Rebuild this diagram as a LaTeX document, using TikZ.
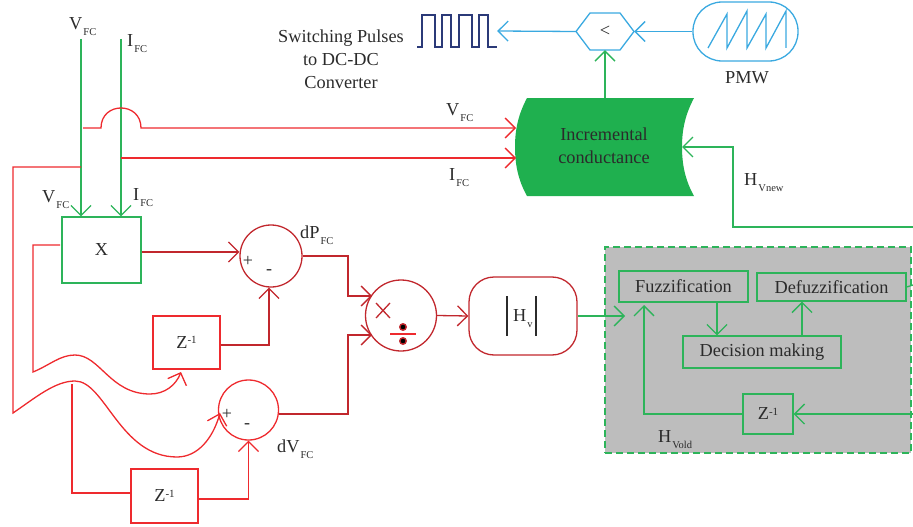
\documentclass[tikz,border=0pt]{standalone}
\usepackage{fontspec}
\setmainfont{Liberation Serif}
\usetikzlibrary{arrows.meta}
\definecolor{fcred}{HTML}{EE2A2E}
\definecolor{fcdark}{HTML}{C1272D}
\definecolor{fcgreen}{HTML}{2DB45A}
\definecolor{fcfill}{HTML}{1FB04F}
\definecolor{fcblue}{HTML}{3AA9E0}
\definecolor{fcnavy}{HTML}{2B3A78}
\definecolor{fcgray}{HTML}{BDBDBD}
\definecolor{fctext}{HTML}{2B2B2B}
\newcommand{\lab}[2]{#1\kern1pt\raisebox{-6pt}{\fontsize{10.5}{10.5}\selectfont #2}}
\newcommand{\zinv}{Z\raisebox{0.55ex}{\fontsize{11}{11}\selectfont -1}}
\tikzset{
  every node/.style={text=fctext, font=\fontsize{18.3}{23}\selectfont},
  tag/.style={anchor=base west, inner sep=0pt},
  sign/.style={font=\fontsize{18}{18}\selectfont},
  tip/.style={>={Straight Barb[length=10pt,width=20pt]}},
  redline/.style={draw=fcred, line width=1.3pt, tip},
  darkline/.style={draw=fcdark, line width=1.3pt, tip},
  greenline/.style={draw=fcgreen, line width=1.3pt, tip},
  blueline/.style={draw=fcblue, line width=1.3pt, tip},
  redbox/.style={draw=fcred, line width=1.3pt, inner sep=0pt},
  greenbox/.style={draw=fcgreen, line width=1.3pt, inner sep=0pt},
  sumnode/.style={circle, draw=fcdark, line width=1.3pt, inner sep=0pt}
}
\begin{document}
\begin{tikzpicture}[x=1pt,y=-1pt]
  \useasboundingbox (0,0) rectangle (913,527);

  % fuzzy block
  \node[minimum width=306pt, minimum height=206pt, fill=fcgray, draw=fcgreen, dash pattern=on 7pt off 4pt, line width=1.3pt] (fuzzy) at (758,350) {};
  \node[greenbox, minimum width=129pt, minimum height=31pt] (fuzzif) at (683.5,286.5) {Fuzzification};
  \node[greenbox, minimum width=149pt, minimum height=28pt] (defuzz) at (831.5,287) {Defuzzification};
  \node[greenbox, minimum width=158pt, minimum height=32pt] (decide) at (762,352) {Decision making};
  \node[greenbox, minimum width=50pt, minimum height=40pt] (zold) at (768,414) {\zinv};
  \node[tag] (hvold) at (658,442) {\lab{H}{Vold}};

  % green block
  \fill[fcfill] (527,98) .. controls (518,115) and (515,130) .. (515,147) .. controls (515,164) and (518,180) .. (527,196)
    -- (694,196) .. controls (685,180) and (682,164) .. (682,147) .. controls (682,130) and (685,115) .. (694,98) -- cycle;
  \node[align=center] (inc) at (604,146) {Incremental\\conductance};
  \coordinate (incv) at (516,128);
  \coordinate (inci) at (516,158);
  \coordinate (incn) at (682,147);
  \coordinate (inct) at (605,98);

  % comparator and carrier
  \node[minimum width=58pt, minimum height=37pt, inner sep=0pt] (comp) at (605,31.5) {<};
  \draw[fcblue, line width=1.3pt] (576,31.5) -- (590,13) -- (620,13) -- (634,31.5) -- (620,50) -- (590,50) -- cycle;
  \node[draw=fcblue, line width=1.3pt, rounded corners=29pt, minimum width=105pt, minimum height=59pt] (carrier) at (745.5,31.5) {};
  \draw[fcblue, line width=1.3pt] (708,48) -- (727,14) -- (727,48) -- (747,11) -- (747,48) -- (766,14) -- (766,48) -- (786,11) -- (786,48);
  \node (pmw) at (747,78) {PMW};

  % pulses
  \node[minimum width=80pt, minimum height=32pt] (pulse) at (457,31) {};
  \draw[fcnavy, line width=1.3pt] (417,47) -- (422,47) -- (422,15) -- (435,15) -- (435,47) -- (442,47) -- (442,15) -- (451,15) -- (451,47)
    -- (459,47) -- (459,15) -- (472,15) -- (472,47) -- (479,47) -- (479,15) -- (488,15) -- (488,47) -- (497,47);
  \node[align=center] (pulsetext) at (341,59) {Switching Pulses\\to DC-DC\\Converter};

  \draw[blueline, ->] (carrier.west) -- (comp.east);
  \draw[blueline, ->] (comp.west) -- (pulse.east);
  \draw[greenline, ->] (inct) -- (comp.south);

  % inputs
  \node[tag] (vtop) at (69,30) {\lab{V}{FC}};
  \node[tag] (itop) at (127,47) {\lab{I}{FC}};
  \coordinate (vstart) at (81,39);
  \coordinate (istart) at (121,39);
  \node[greenbox, minimum width=79pt, minimum height=66pt] (mult) at (101.5,250) {X};
  \node[tag] (vlow) at (42,202) {\lab{V}{FC}};
  \node[tag] (ilow) at (133,200) {\lab{I}{FC}};
  \draw[greenline, ->] (vstart) -- (vstart |- mult.north);
  \draw[greenline, ->] (istart) -- (istart |- mult.north);

  % to incremental conductance
  \coordinate (vtap) at (83,128);
  \coordinate (itap) at (121,158);
  \draw[redline, ->] (vtap) -- (101,128) .. controls (101,101.3) and (141,101.3) .. (141,128) -- (incv);
  \draw[redline, ->] (itap) -- (inci);
  \node[tag] (vmid) at (446,115) {\lab{V}{FC}};
  \node[tag] (imid) at (449,180) {\lab{I}{FC}};

  % difference of power
  \node[sumnode, minimum size=62pt] (sumdp) at (271,256) {};
  \node[sign] (dpplus) at (248,261) {+};
  \node[sign] (dpminus) at (269,272) {-};
  \node[tag] (dplab) at (300,238) {\lab{dP}{FC}};
  \node[redbox, minimum width=67pt, minimum height=53pt] (zp) at (186.5,342.5) {\zinv};
  \draw[darkline, ->] ([yshift=-2pt]mult.east) -- ([yshift=-2pt]mult.east -| sumdp.west);
  \draw[darkline, ->] ([yshift=-2.5pt]zp.east) -| ([xshift=-2pt]sumdp.south);

  % difference of voltage
  \node[sumnode, draw=fcred, minimum size=60pt] (sumdv) at (248.5,410) {};
  \node[sign] (dvplus) at (227,414) {+};
  \node[sign] (dvminus) at (247,426) {-};
  \node[tag] (dvlab) at (277,452) {\lab{dV}{FC}};
  \node[redbox, minimum width=67pt, minimum height=54pt] (zv) at (164.5,496) {\zinv};
  \draw[redline, ->] ([yshift=-3pt]zv.east) -| (sumdv.south);

  % feedback wires
  \coordinate (vleft) at (81,167);
  \coordinate (xleft) at (60,245);
  \coordinate (zptip) at (181,372);
  \coordinate (dvtip) at (220,413);
  \coordinate (ztap) at (72,384);
  \draw[redline, ->] (vleft) -- (13,167) -- (13,413) .. controls (35,398) and (55,381) .. (75,381)
    .. controls (105,381) and (120,457) .. (177,457) .. controls (198,457) and (213,438) .. (dvtip);
  \draw[redline, ->] (xleft) -- (33,245) -- (33,372) .. controls (50,365) and (60,355) .. (75,355)
    .. controls (100,355) and (110,394) .. (150,394) .. controls (165,394) and (176,385) .. (zptip);
  \draw[redline] (ztap) |- ([yshift=3pt]zv.west);

  % divider
  \node[sumnode, minimum size=71pt] (divide) at (401,315.5) {};
  \coordinate (divp) at (372,296);
  \coordinate (divv) at (372,335);
  \draw[fcdark, line width=1.3pt] (376,303) -- (390,318) (390,303) -- (376,318);
  \draw[fcred, line width=1.3pt] (390,334) -- (416,334);
  \fill[fcdark] (403,327) circle (4pt) (403,341) circle (4pt);
  \fill[black] (403,327) circle (2.3pt) (403,341) circle (2.3pt);
  \draw[darkline, ->] (sumdp.east) -- (348,256) -- (348,296) -- (divp);
  \draw[darkline, ->] ([yshift=-4pt]sumdv.east) -- (348,414) -- (348,335) -- (divv);

  % magnitude
  \node[draw=fcdark, line width=1.3pt, rounded corners=25pt, minimum width=108pt, minimum height=78pt] (mag) at (523,316) {};
  \node[tag] (hv) at (513,321) {\lab{H}{v}};
  \draw[fctext, line width=1.3pt] (507,296) -- (507,336) (536,296) -- (536,336);
  \draw[darkline, ->] (divide.east) -- (mag.west);
  \coordinate (fuzzin) at (625,316);
  \draw[greenline, ->] (mag.east) -- (fuzzin);

  % fuzzy wiring
  \coordinate (fuzzback) at (644,305);
  \coordinate (zoldin) at (913,414);
  \coordinate (defout) at (913,285);
  \coordinate (hvcorner) at (913,227);
  \coordinate (fdx) at (717,300);
  \coordinate (ddx) at (802,300);
  \draw[greenline, ->] (fuzzif.south -| fdx) -- (decide.north -| fdx);
  \draw[greenline, ->] (decide.north -| ddx) -- (defuzz.south -| ddx);
  \draw[greenline, ->] (zold.west) -| (fuzzback);
  \draw[greenline, ->] (zoldin) -- (zold.east);
  \draw[greenline] (defuzz.east) -- (defout);
  \draw[greenline, ->] (hvcorner) -- (733,227) -- (733,147) -- (incn);
  \node[tag] (hvnew) at (744,185) {\lab{H}{Vnew}};
\end{tikzpicture}
\end{document}
